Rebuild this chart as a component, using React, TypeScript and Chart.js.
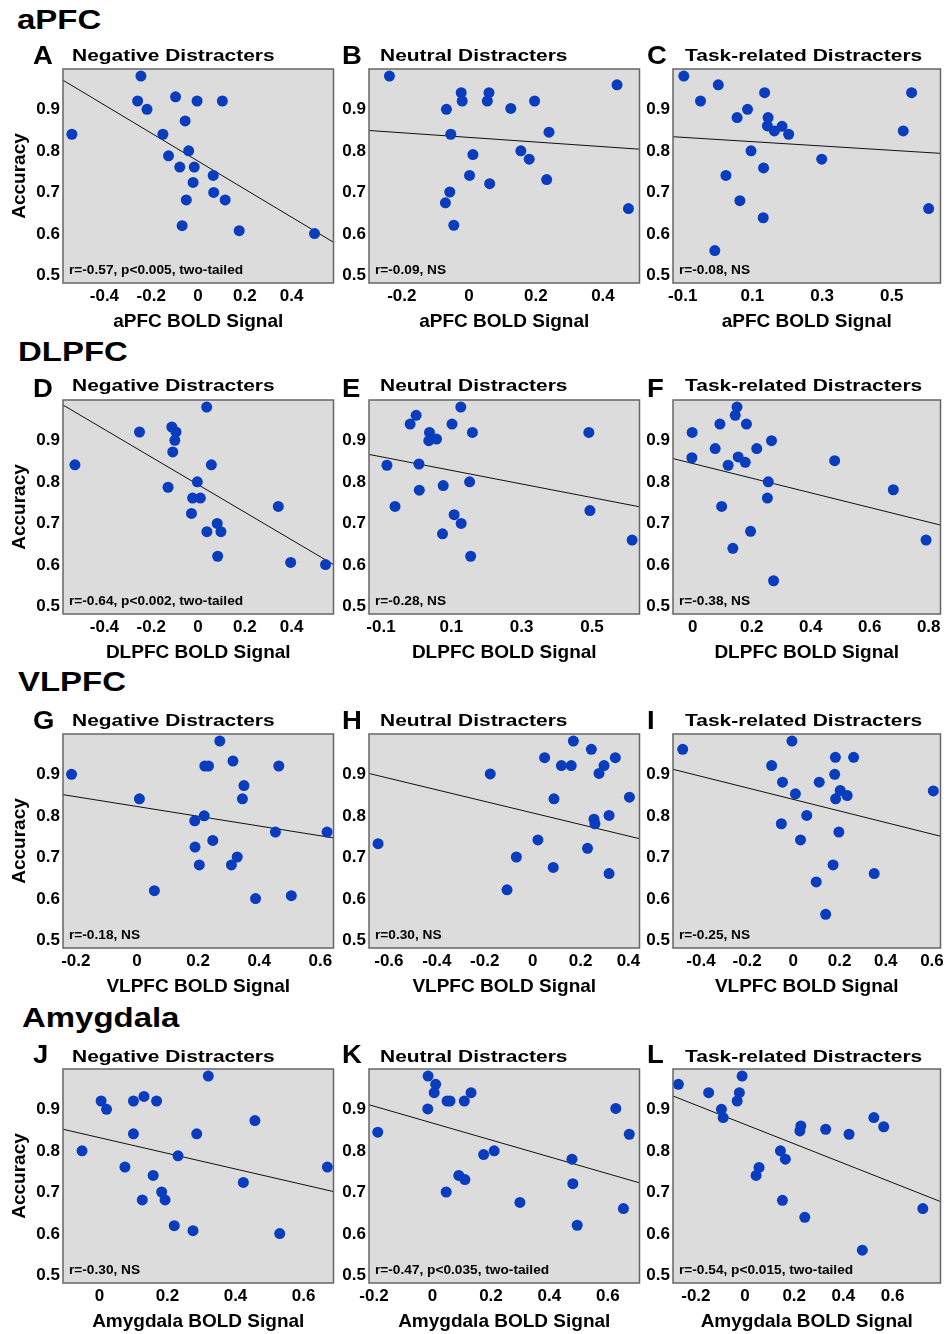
import React, { useEffect, useRef } from 'react';
import { Chart, registerables } from 'chart.js';

Chart.register(...registerables);

// ---------------- data ----------------
const REGIONS = ['aPFC', 'DLPFC', 'VLPFC', 'Amygdala'];
const CONDITIONS = ['Negative Distracters', 'Neutral Distracters', 'Task-related Distracters'];
const LETTERS = ['A', 'B', 'C', 'D', 'E', 'F', 'G', 'H', 'I', 'J', 'K', 'L'];
const Y_TICKS = [0.5, 0.6, 0.7, 0.8, 0.9];
const Y_RANGE = [0.482, 0.997];

const A_x = [-0.244, -0.258, -0.218, -0.096, -0.004, 0.104, -0.055, -0.539, -0.15, -0.04, -0.126, -0.078, -0.016, -0.021, 0.065, 0.067, -0.05, 0.116, -0.068, 0.176, 0.498];
const A_y = [0.98, 0.92, 0.9, 0.93, 0.92, 0.92, 0.872, 0.84, 0.84, 0.8, 0.788, 0.761, 0.761, 0.724, 0.741, 0.7, 0.682, 0.682, 0.62, 0.608, 0.601];
const A_range = [-0.577, 0.579];
const A_fit = [0.97, 0.58];
const A_ticks = [-0.4, -0.2, 0, 0.2, 0.4];

const B_x = [-0.237, -0.023, 0.06, -0.02, 0.055, 0.196, 0.442, -0.067, 0.125, -0.054, 0.239, 0.012, 0.155, 0.18, 0.002, 0.062, 0.232, -0.057, -0.07, -0.045, 0.476];
const B_y = [0.98, 0.94, 0.94, 0.92, 0.92, 0.92, 0.959, 0.9, 0.902, 0.84, 0.845, 0.791, 0.8, 0.78, 0.741, 0.721, 0.731, 0.701, 0.675, 0.621, 0.661];
const B_range = [-0.298, 0.509];
const B_fit = [0.849, 0.804];
const B_ticks = [-0.2, 0, 0.2, 0.4];

const C_x = [-0.097, 0.002, -0.049, 0.135, 0.086, 0.056, 0.145, 0.143, 0.185, 0.163, 0.204, 0.557, 0.533, 0.096, 0.299, 0.132, 0.024, 0.064, 0.131, -0.008, 0.606];
const C_y = [0.98, 0.959, 0.92, 0.94, 0.9, 0.88, 0.88, 0.86, 0.859, 0.848, 0.84, 0.94, 0.848, 0.8, 0.78, 0.759, 0.741, 0.68, 0.639, 0.56, 0.661];
const C_range = [-0.128, 0.64];
const C_fit = [0.834, 0.794];
const C_ticks = [-0.1, 0.1, 0.3, 0.5];

const D_x = [0.037, -0.25, -0.112, -0.094, -0.099, -0.108, -0.526, 0.057, -0.003, -0.128, -0.023, 0.01, -0.028, 0.343, 0.082, 0.038, 0.098, 0.084, 0.396, 0.545];
const D_y = [0.98, 0.92, 0.932, 0.92, 0.9, 0.872, 0.841, 0.841, 0.8, 0.787, 0.761, 0.761, 0.724, 0.741, 0.7, 0.68, 0.68, 0.621, 0.606, 0.601];
const D_range = [-0.577, 0.579];
const D_fit = [0.985, 0.601];
const D_ticks = [-0.4, -0.2, 0, 0.2, 0.4];

const E_x = [0.127, 0.0, -0.017, 0.102, 0.038, 0.16, 0.491, 0.036, 0.058, -0.083, 0.008, 0.009, 0.077, 0.152, -0.06, 0.108, 0.128, 0.075, 0.155, 0.494, 0.614];
const E_y = [0.98, 0.96, 0.939, 0.939, 0.919, 0.919, 0.919, 0.899, 0.903, 0.84, 0.843, 0.78, 0.791, 0.8, 0.741, 0.721, 0.7, 0.675, 0.621, 0.731, 0.66];
const E_range = [-0.134, 0.635];
const E_fit = [0.866, 0.74];
const E_ticks = [-0.1, 0.1, 0.3, 0.5];

const F_x = [0.15, 0.144, 0.092, 0.182, -0.002, 0.267, 0.076, 0.217, -0.003, 0.154, 0.178, 0.12, 0.481, 0.256, 0.68, 0.253, 0.098, 0.196, 0.136, 0.274, 0.791];
const F_y = [0.98, 0.96, 0.939, 0.939, 0.919, 0.899, 0.88, 0.88, 0.858, 0.86, 0.847, 0.84, 0.851, 0.8, 0.781, 0.761, 0.741, 0.681, 0.64, 0.562, 0.66];
const F_range = [-0.067, 0.84];
const F_fit = [0.856, 0.696];
const F_ticks = [0, 0.2, 0.4, 0.6, 0.8];

const G_x = [-0.214, 0.008, 0.271, 0.222, 0.234, 0.314, 0.464, 0.35, 0.345, 0.22, 0.189, 0.453, 0.622, 0.248, 0.19, 0.328, 0.204, 0.309, 0.057, 0.388, 0.505];
const G_y = [0.9, 0.841, 0.98, 0.92, 0.92, 0.932, 0.92, 0.873, 0.841, 0.8, 0.788, 0.761, 0.761, 0.741, 0.725, 0.701, 0.682, 0.682, 0.62, 0.601, 0.608];
const G_range = [-0.242, 0.643];
const G_fit = [0.851, 0.747];
const G_ticks = [-0.2, 0, 0.2, 0.4, 0.6];

const H_x = [-0.645, -0.177, 0.17, 0.05, 0.12, 0.161, 0.245, 0.345, 0.298, 0.277, 0.089, 0.404, 0.256, 0.26, 0.319, 0.022, 0.229, -0.068, 0.086, 0.319, -0.107];
const H_y = [0.733, 0.901, 0.98, 0.94, 0.921, 0.921, 0.96, 0.94, 0.921, 0.902, 0.841, 0.845, 0.792, 0.781, 0.801, 0.742, 0.722, 0.701, 0.676, 0.661, 0.622];
const H_range = [-0.683, 0.446];
const H_fit = [0.902, 0.745];
const H_ticks = [-0.6, -0.4, -0.2, 0, 0.2, 0.4];

const I_x = [-0.479, -0.006, -0.094, -0.047, 0.009, 0.182, 0.261, 0.179, 0.112, 0.203, 0.233, 0.183, 0.606, 0.058, -0.052, 0.197, 0.031, 0.172, 0.099, 0.35, 0.14];
const I_y = [0.96, 0.98, 0.921, 0.881, 0.853, 0.941, 0.941, 0.9, 0.881, 0.861, 0.849, 0.841, 0.86, 0.801, 0.781, 0.761, 0.742, 0.682, 0.641, 0.661, 0.563];
const I_range = [-0.521, 0.637];
const I_fit = [0.912, 0.751];
const I_ticks = [-0.4, -0.2, 0, 0.2, 0.4, 0.6];

const J_x = [-0.051, 0.005, 0.021, 0.1, 0.131, 0.168, 0.32, 0.1, 0.286, 0.457, 0.075, 0.231, 0.158, 0.183, 0.126, 0.193, 0.423, 0.67, 0.22, 0.275, 0.53];
const J_y = [0.8, 0.92, 0.9, 0.92, 0.931, 0.92, 0.98, 0.841, 0.841, 0.873, 0.761, 0.788, 0.741, 0.701, 0.682, 0.682, 0.724, 0.761, 0.62, 0.608, 0.601];
const J_range = [-0.107, 0.688];
const J_fit = [0.852, 0.702];
const J_ticks = [0, 0.2, 0.4, 0.6];

const K_x = [-0.187, -0.015, 0.011, 0.006, -0.016, 0.05, 0.06, 0.109, 0.132, 0.627, 0.673, 0.175, 0.211, 0.477, 0.09, 0.111, 0.48, 0.047, 0.299, 0.653, 0.495];
const K_y = [0.845, 0.98, 0.96, 0.94, 0.901, 0.92, 0.92, 0.92, 0.94, 0.902, 0.84, 0.791, 0.8, 0.78, 0.741, 0.731, 0.721, 0.701, 0.676, 0.661, 0.621];
const K_range = [-0.217, 0.708];
const K_fit = [0.911, 0.723];
const K_ticks = [-0.2, 0, 0.2, 0.4, 0.6];

const L_x = [-0.271, -0.148, -0.012, -0.023, -0.032, -0.096, -0.089, 0.227, 0.223, 0.328, 0.423, 0.524, 0.564, 0.144, 0.164, 0.057, 0.045, 0.152, 0.243, 0.477, 0.723];
const L_y = [0.96, 0.94, 0.98, 0.94, 0.92, 0.9, 0.88, 0.86, 0.848, 0.852, 0.84, 0.88, 0.858, 0.8, 0.78, 0.76, 0.741, 0.681, 0.64, 0.561, 0.661];
const L_range = [-0.293, 0.795];
const L_fit = [0.932, 0.678];
const L_ticks = [-0.2, 0, 0.2, 0.4, 0.6];

const STATS = [
  'r=-0.57, p<0.005, two-tailed', 'r=-0.09, NS', 'r=-0.08, NS',
  'r=-0.64, p<0.002, two-tailed', 'r=-0.28, NS', 'r=-0.38, NS',
  'r=-0.18, NS', 'r=0.30, NS', 'r=-0.25, NS',
  'r=-0.30, NS', 'r=-0.47, p<0.035, two-tailed', 'r=-0.54, p<0.015, two-tailed',
];

const SERIES = [
  [A_x, A_y, A_range, A_fit, A_ticks], [B_x, B_y, B_range, B_fit, B_ticks], [C_x, C_y, C_range, C_fit, C_ticks],
  [D_x, D_y, D_range, D_fit, D_ticks], [E_x, E_y, E_range, E_fit, E_ticks], [F_x, F_y, F_range, F_fit, F_ticks],
  [G_x, G_y, G_range, G_fit, G_ticks], [H_x, H_y, H_range, H_fit, H_ticks], [I_x, I_y, I_range, I_fit, I_ticks],
  [J_x, J_y, J_range, J_fit, J_ticks], [K_x, K_y, K_range, K_fit, K_ticks], [L_x, L_y, L_range, L_fit, L_ticks],
];

// ---------------- layout / style ----------------
const FONT = '"Liberation Sans", Arial, Helvetica, sans-serif';
const COL_LEFT = [63, 369, 673];
const ROW_TOP = [69, 400, 734, 1069];
const PLOT_W = 272;
const PLOT_H = 214;
const BLUE = '#0a3cbe';
const HEADER_BASE = [29.5, 361.7, 692.3, 1027.7];
const HEADER_LEFT = [16.7, 18.3, 18.3, 21.7];
const LETTER_BASE = [64.3, 397, 729, 1063];
const LETTER_LEFT = [33, 342, 647];
const TITLE_BASE = [60.7, 390.5, 726, 1061.5];
const TITLE_LEFT = [72, 380, 685];

const boxPlugin = {
  id: 'plotBox',
  beforeDraw(chart: any) {
    const { ctx, chartArea: a } = chart;
    ctx.save();
    ctx.fillStyle = '#dcdcdc';
    ctx.fillRect(a.left, a.top, a.right - a.left, a.bottom - a.top);
    ctx.restore();
  },
  afterDraw(chart: any) {
    const { ctx, chartArea: a } = chart;
    ctx.save();
    ctx.strokeStyle = '#666';
    ctx.lineWidth = 1.5;
    ctx.strokeRect(a.left, a.top, a.right - a.left, a.bottom - a.top);
    ctx.restore();
  },
};

const fmt = (v: number) => (Math.abs(v) < 1e-9 ? '0' : v.toFixed(1));

function Panel({ idx }: { idx: number }) {
  const ref = useRef<HTMLCanvasElement | null>(null);
  const col = idx % 3;
  const row = Math.floor(idx / 3);
  const yW = col === 0 ? 63 : 40;
  const padR = col === 2 ? 1 : 4;
  const padT = 8;
  const xH = 50;
  const W = yW + PLOT_W + padR;
  const H = padT + PLOT_H + xH;
  const left = COL_LEFT[col] - yW;
  const top = ROW_TOP[row] - padT;

  useEffect(() => {
    const [xs, ys, range, fit, ticks] = SERIES[idx] as any;
    const tickFont = { family: FONT, size: 17, weight: 'bold' as const };
    const titleFont = { family: FONT, size: 19, weight: 'bold' as const };
    const chart = new Chart(ref.current as HTMLCanvasElement, {
      type: 'scatter',
      data: {
        datasets: [
          {
            data: xs.map((x: number, i: number) => ({ x, y: ys[i] })),
            pointRadius: 5.5,
            pointBackgroundColor: BLUE,
            pointBorderColor: BLUE,
            pointBorderWidth: 0,
            clip: false as any,
          },
          {
            data: [
              { x: range[0], y: fit[0] },
              { x: range[1], y: fit[1] },
            ],
            showLine: true,
            pointRadius: 0,
            borderColor: '#111',
            borderWidth: 1,
          },
        ],
      },
      options: {
        responsive: false,
        maintainAspectRatio: false,
        animation: false,
        events: [],
        layout: { padding: { left: 0, top: padT, right: padR, bottom: 0 } },
        plugins: { legend: { display: false }, tooltip: { enabled: false } },
        scales: {
          x: {
            type: 'linear',
            min: range[0],
            max: range[1],
            grid: { display: false, drawTicks: false },
            border: { display: false },
            afterBuildTicks: (s: any) => {
              s.ticks = ticks.map((v: number) => ({ value: v }));
            },
            afterFit: (s: any) => {
              s.height = xH;
              s.paddingLeft = 0;
              s.paddingRight = 0;
            },
            ticks: {
              font: tickFont,
              color: '#000',
              padding: 3,
              maxRotation: 0,
              autoSkip: false,
              callback: (v: any) => fmt(Number(v)),
            },
            title: {
              display: true,
              text: `${REGIONS[row]} BOLD Signal`,
              font: titleFont,
              color: '#000',
              padding: { top: 0, bottom: 0 },
            },
          },
          y: {
            type: 'linear',
            min: Y_RANGE[0],
            max: Y_RANGE[1],
            grid: { display: false, drawTicks: false },
            border: { display: false },
            afterBuildTicks: (s: any) => {
              s.ticks = Y_TICKS.map((v) => ({ value: v }));
            },
            afterFit: (s: any) => {
              s.width = yW;
              s.paddingTop = 0;
              s.paddingBottom = 0;
            },
            ticks: {
              font: tickFont,
              color: '#000',
              padding: 3,
              autoSkip: false,
              callback: (v: any) => fmt(Number(v)),
            },
            title: {
              display: col === 0,
              text: 'Accuracy',
              font: titleFont,
              color: '#000',
              padding: { top: 8, bottom: 0 },
            },
          },
        },
      } as any,
      plugins: [boxPlugin],
    });
    return () => chart.destroy();
  }, []);

  return (
    <canvas
      ref={ref}
      width={W}
      height={H}
      style={{ position: 'absolute', left, top, width: W, height: H }}
    />
  );
}

function Txt({ text, left, base, size, weight, sx }: { text: string; left: number; base: number; size: number; weight: number; sx: number }) {
  return (
    <div
      style={{
        position: 'absolute',
        left,
        top: base - 0.8465 * size,
        fontFamily: FONT,
        fontSize: size,
        lineHeight: `${size}px`,
        fontWeight: weight,
        whiteSpace: 'nowrap',
        color: '#000',
        transform: `scaleX(${sx})`,
        transformOrigin: 'left top',
      }}
    >
      {text}
    </div>
  );
}

export default function App() {
  const idxs = Array.from({ length: 12 }, (_, i) => i);
  return (
    <div style={{ position: 'absolute', left: 0, top: 0, width: 946, height: 1334, background: '#fff', overflow: 'hidden' }}>
      {idxs.map((i) => (
        <Panel key={`p${i}`} idx={i} />
      ))}
      {REGIONS.map((r, i) => (
        <Txt key={`h${i}`} text={r} left={HEADER_LEFT[i]} base={HEADER_BASE[i]} size={27} weight={700} sx={1.22} />
      ))}
      {idxs.map((i) => {
        const col = i % 3;
        const row = Math.floor(i / 3);
        return (
          <React.Fragment key={`t${i}`}>
            <Txt text={LETTERS[i]} left={LETTER_LEFT[col]} base={LETTER_BASE[row]} size={25} weight={700} sx={1.1} />
            <Txt text={CONDITIONS[col]} left={TITLE_LEFT[col]} base={TITLE_BASE[row]} size={16.5} weight={700} sx={1.27} />
            <Txt text={STATS[i]} left={COL_LEFT[col] + 6} base={ROW_TOP[row] + PLOT_H - 9} size={12} weight={700} sx={1.14} />
          </React.Fragment>
        );
      })}
    </div>
  );
}
